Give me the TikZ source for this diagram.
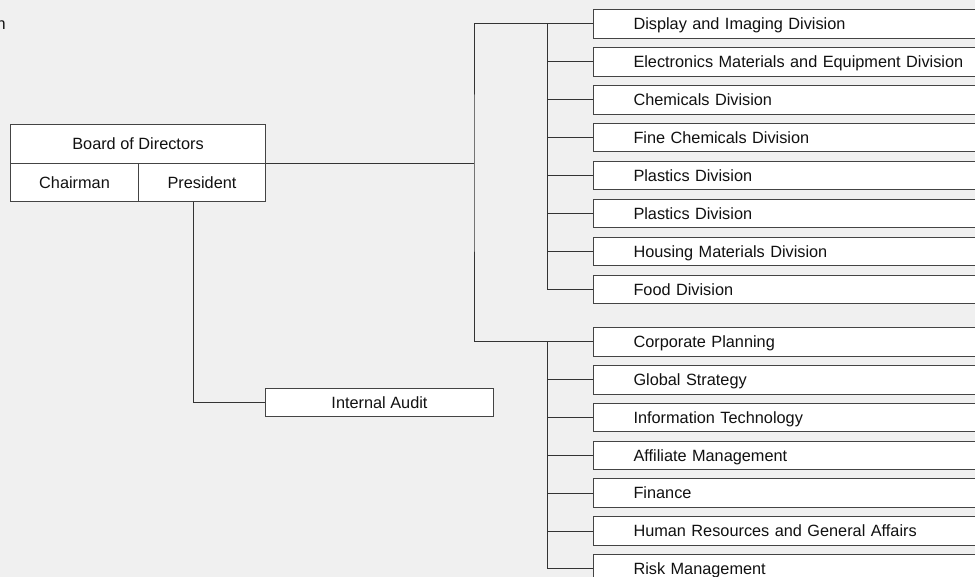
\documentclass[tikz,border=0pt]{standalone}
\usepackage{fontspec}
\setmainfont{Liberation Sans}
\definecolor{bg}{HTML}{F0F0F0}
\definecolor{ln}{HTML}{333333}
\definecolor{bx}{HTML}{444444}
\definecolor{tx}{HTML}{111111}
\begin{document}
\begin{tikzpicture}[x=1pt,y=-1pt,
  every node/.style={font=\fontsize{16.3}{18}\selectfont, text=tx},
  cell/.style={draw=bx, line width=1pt, fill=white, anchor=north west, inner sep=0pt,
    text height=12pt, text depth=0.5pt},
  unit/.style={draw=bx, line width=1pt, fill=white, anchor=west, minimum height=28.5pt,
    text width=340pt, inner xsep=40pt, inner ysep=0pt, align=left,
    text height=12pt, text depth=0.5pt},
  conn/.style={draw=ln, line width=1pt}]
\clip (0,0) rectangle (975,577);
\fill[bg] (0,0) rectangle (975,577);
\node[anchor=base east, inner sep=0pt] (cut) at (6,30) {n};
% board
\node[cell, minimum width=255pt, minimum height=39pt] (board) at (10,124) {Board of Directors};
\node[cell, minimum width=128pt, minimum height=38pt] (chair) at (10,163) {Chairman};
\node[cell, minimum width=127pt, minimum height=38pt] (pres) at (138,163) {President};
\node[cell, minimum width=228pt, minimum height=28pt] (audit) at (265,388) {Internal Audit};
% divisions
\foreach \n/\t [count=\i from 0] in {d1/Display and Imaging Division,
  d2/Electronics Materials and Equipment Division, d3/Chemicals Division,
  d4/Fine Chemicals Division, d5/Plastics Division, d6/Plastics Division,
  d7/Housing Materials Division, d8/Food Division}
  \node[unit] (\n) at (593,24+37.9*\i) {\t};
\foreach \n/\t [count=\i from 0] in {c1/Corporate Planning, c2/Global Strategy,
  c3/Information Technology, c4/Affiliate Management, c5/Finance,
  c6/Human Resources and General Affairs, c7/Risk Management}
  \node[unit] (\n) at (593,342+37.8*\i) {\t};
% connectors
\path (board.south east) -- ++(208,0) coordinate (bus);
\coordinate (ib) at (547,0);
\draw[conn] (board.south east) -- (bus);
\draw[conn] (d1.west) -| (bus) |- (c1.west);
\draw[conn] (d1.west -| ib) -- (d8.west -| ib);
\foreach \n in {d2,d3,d4,d5,d6,d7,d8} \draw[conn] (\n.west) -- (\n.west -| ib);
\draw[conn] (c1.west -| ib) -- (c7.west -| ib);
\foreach \n in {c2,c3,c4,c5,c6,c7} \draw[conn] (\n.west) -- (\n.west -| ib);
\draw[conn] ([xshift=-8.5pt]pres.south) |- (audit.west);
\end{tikzpicture}
\end{document}
